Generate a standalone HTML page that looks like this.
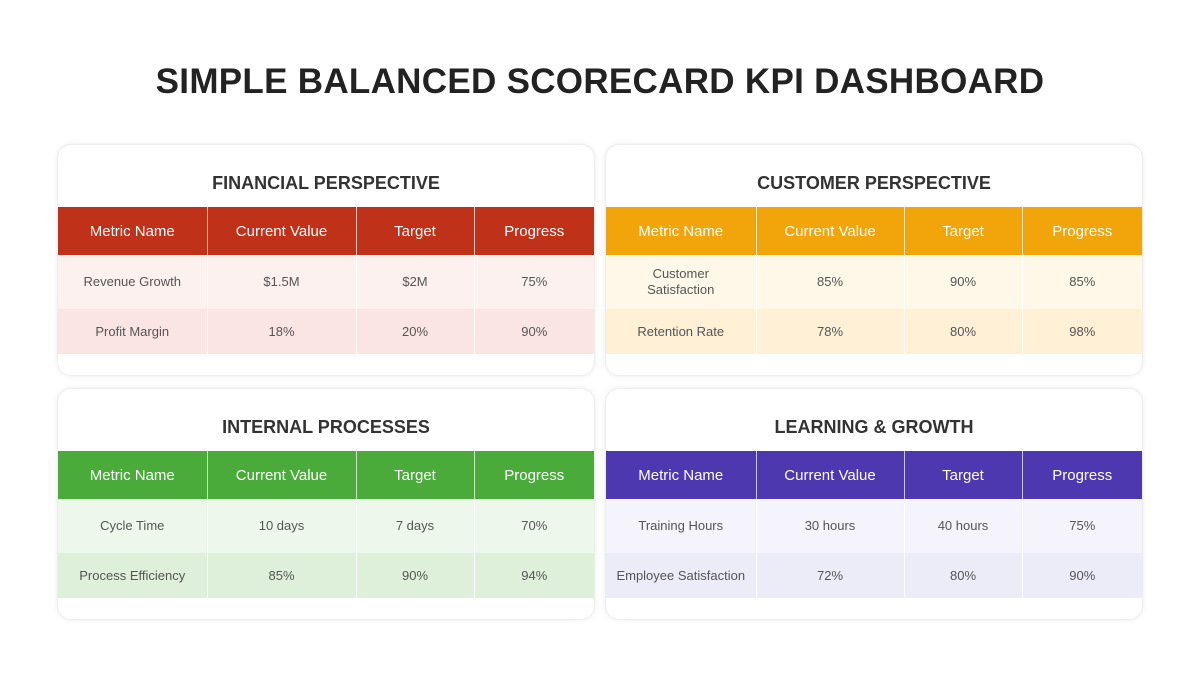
<!DOCTYPE html>
<html><head><meta charset="utf-8"><style>
body{margin:0;width:1200px;height:675px;background:#fff;font-family:"Liberation Sans",sans-serif;position:relative;overflow:hidden}
h1{position:absolute;top:62px;left:0;width:1200px;margin:0;text-align:center;font-size:35px;font-weight:bold;color:#222;letter-spacing:0.3px}
.card{position:absolute;width:536px;height:230px;background:#fff;border-radius:14px;box-shadow:0 0 6px rgba(0,0,0,0.08);border:1px solid #eee;overflow:hidden}
.card h2{margin:0;position:absolute;top:28px;width:100%;text-align:center;font-size:18px;font-weight:bold;color:#333}
table{position:absolute;left:0;top:62px;width:536px;border-collapse:collapse;table-layout:fixed;font-size:13px;color:#555}
th{font-weight:normal;color:#fff;font-size:15px;height:46px;border-right:1px solid rgba(255,255,255,0.7)}
td{text-align:center;border-right:1px solid rgba(255,255,255,0.8);line-height:16px}
tr.r1 td{height:52px}tr.r2 td{height:43px}
th:last-child,td:last-child{border-right:none}
</style></head><body>
<h1>SIMPLE BALANCED SCORECARD KPI DASHBOARD</h1>

<div class="card" style="left:57px;top:144px">
<h2>FINANCIAL PERSPECTIVE</h2>
<table><colgroup><col style="width:149px"><col style="width:149px"><col style="width:118px"><col style="width:120px"></colgroup>
<tr style="background:#c0311a"><th>Metric Name</th><th>Current Value</th><th>Target</th><th>Progress</th></tr>
<tr class="r1" style="background:#fdf1f0"><td>Revenue Growth</td><td>$1.5M</td><td>$2M</td><td>75%</td></tr>
<tr class="r2" style="background:#fbe5e3"><td>Profit Margin</td><td>18%</td><td>20%</td><td>90%</td></tr>
</table></div>

<div class="card" style="left:605px;top:144px">
<h2>CUSTOMER PERSPECTIVE</h2>
<table><colgroup><col style="width:150px"><col style="width:148px"><col style="width:118px"><col style="width:120px"></colgroup>
<tr style="background:#f2a40b"><th>Metric Name</th><th>Current Value</th><th>Target</th><th>Progress</th></tr>
<tr class="r1" style="background:#fff8e9"><td>Customer<br>Satisfaction</td><td>85%</td><td>90%</td><td>85%</td></tr>
<tr class="r2" style="background:#fff0d6"><td>Retention Rate</td><td>78%</td><td>80%</td><td>98%</td></tr>
</table></div>

<div class="card" style="left:57px;top:388px">
<h2>INTERNAL PROCESSES</h2>
<table><colgroup><col style="width:149px"><col style="width:149px"><col style="width:118px"><col style="width:120px"></colgroup>
<tr style="background:#4aab3a"><th style="height:45px">Metric Name</th><th>Current Value</th><th>Target</th><th>Progress</th></tr>
<tr class="r1" style="background:#eef7ec"><td>Cycle Time</td><td>10 days</td><td>7 days</td><td>70%</td></tr>
<tr class="r2" style="background:#dff0da"><td>Process Efficiency</td><td>85%</td><td>90%</td><td>94%</td></tr>
</table></div>

<div class="card" style="left:605px;top:388px">
<h2>LEARNING &amp; GROWTH</h2>
<table><colgroup><col style="width:150px"><col style="width:148px"><col style="width:118px"><col style="width:120px"></colgroup>
<tr style="background:#4e38b0"><th style="height:45px">Metric Name</th><th>Current Value</th><th>Target</th><th>Progress</th></tr>
<tr class="r1" style="background:#f5f3fb"><td>Training Hours</td><td>30 hours</td><td>40 hours</td><td>75%</td></tr>
<tr class="r2" style="background:#ecebf8"><td>Employee Satisfaction</td><td>72%</td><td>80%</td><td>90%</td></tr>
</table></div>
</body></html>
